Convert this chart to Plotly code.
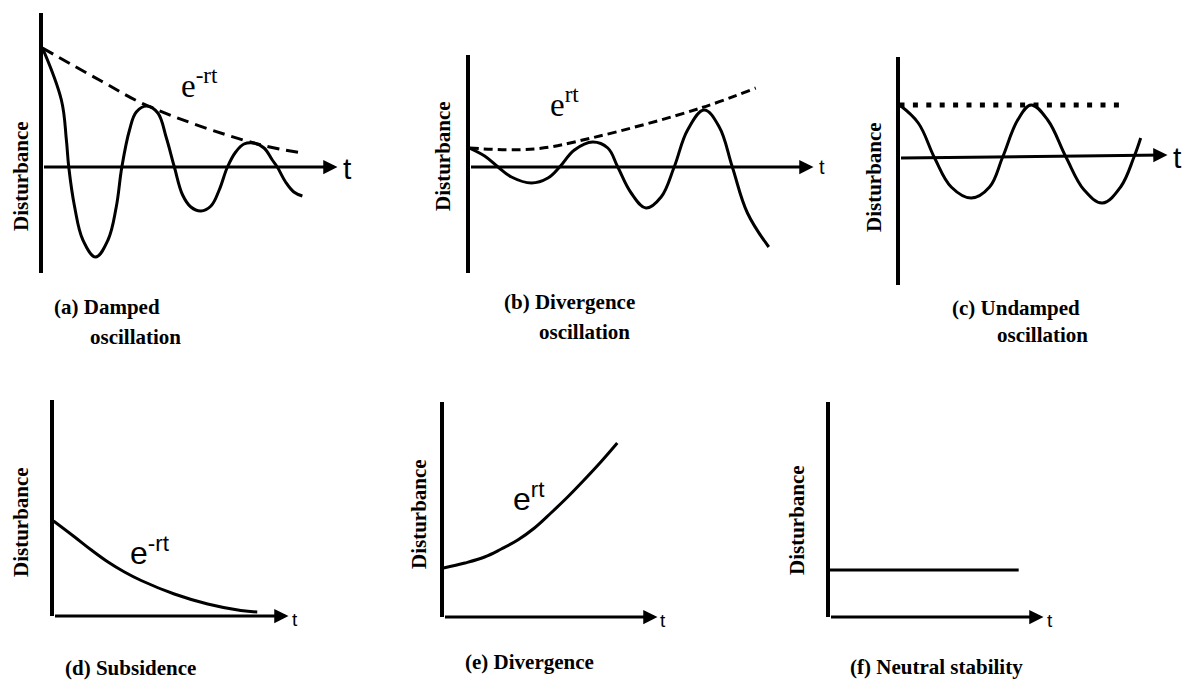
import plotly.graph_objects as go

W, H = 1184, 682

# ---------------- data: (time t, disturbance) ----------------
# (a) damped oscillation
a_t = [0, 0.64, 0.81, 0.89, 1.09, 1.37, 1.80, 2.22, 2.50, 2.69, 2.95, 3.18, 3.54, 3.91, 4.19,
       4.47, 4.75, 5.03, 5.37, 5.71, 5.99, 6.27, 6.55, 6.83, 7.17, 7.51, 7.79, 7.96, 8.24, 8.52, 8.81]
a_d = [1.19, 0.67, 0.27, 0.0, -0.40, -0.73, -0.90, -0.73, -0.40, 0.0, 0.37, 0.55, 0.61, 0.54, 0.30,
       0.0, -0.28, -0.40, -0.44, -0.39, -0.23, 0.0, 0.15, 0.23, 0.24, 0.19, 0.07, 0.0, -0.15, -0.25, -0.29]
a_env_t = [0, 1.99, 3.58, 7.16, 8.82]
a_env_d = [1.19, 0.86, 0.61, 0.24, 0.14]

# (b) divergence oscillation
b_t = [0, 0.44, 0.83, 1.22, 1.80, 2.28, 2.62, 3.05, 3.58, 4.02, 4.31, 4.70, 5.13, 5.57, 5.95,
       6.34, 6.82, 7.26, 7.64, 8.08, 8.70]
b_d = [0.19, 0.11, 0.0, -0.10, -0.16, -0.11, 0.0, 0.17, 0.25, 0.19, 0.0, -0.26, -0.41, -0.30, 0.0,
       0.37, 0.57, 0.40, 0.0, -0.46, -0.80]
b_env_t = [0, 1.88, 3.54, 6.72, 8.32]
b_env_d = [0.19, 0.18, 0.29, 0.59, 0.79]

# (c) undamped oscillation
c_t = [0, 0.70, 1.31, 1.93, 2.68, 3.36, 3.85, 4.41, 4.91, 5.53, 6.21, 6.89, 7.57, 8.25, 8.75, 9.00]
c_d = [0.53, 0.35, 0.0, -0.29, -0.40, -0.29, 0.01, 0.38, 0.53, 0.38, 0.01, -0.32, -0.45, -0.29, 0.01, 0.20]
c_lvl_t = [0, 8.48]
c_lvl_d = [0.53, 0.53]

# (d) subsidence
d_t = [0, 0.90, 1.61, 2.32, 3.02, 3.73, 5.14, 6.56, 7.97, 8.67]
d_d = [0.95, 0.79, 0.66, 0.54, 0.44, 0.355, 0.22, 0.12, 0.055, 0.04]

# (e) divergence
e_t = [0, 1.00, 1.92, 2.70, 3.47, 4.25, 5.02, 5.80, 6.57, 7.35, 8.12]
e_d = [0.49, 0.54, 0.60, 0.68, 0.77, 0.89, 1.04, 1.20, 1.37, 1.55, 1.74]

# (f) neutral stability
f_t = [0, 8.84]
f_d = [0.47, 0.47]

# time-axis arrow end (t, disturbance) per panel
axis_tip_t = [10, 10, 10, 10, 10, 10]
axis_tip_d = [0.0, 0.0, 0.03, 0.0, 0.0, 0.0]

captions = [
    ["(a) Damped", "oscillation"],
    ["(b) Divergence", "oscillation"],
    ["(c) Undamped", "oscillation"],
    ["(d) Subsidence"],
    ["(e) Divergence"],
    ["(f) Neutral stability"],
]
y_title = "Disturbance"

# ---------------- layout geometry (pixels) ----------------
# origin x, origin y, px per t unit, px per disturbance unit, top, bottom
geom = [
    dict(ox=42.5, oy=167, sx=29.5, sy=100, top=13, bottom=273),
    dict(ox=469.5, oy=167, sx=34.4, sy=100, top=55, bottom=273),
    dict(ox=899.5, oy=158, sx=26.8, sy=100, top=57, bottom=285),
    dict(ox=53.5, oy=616, sx=23.5, sy=100, top=400, bottom=616),
    dict(ox=443.5, oy=617, sx=21.4, sy=100, top=402, bottom=617),
    dict(ox=829.5, oy=617, sx=21.4, sy=100, top=402, bottom=617),
]

fig = go.Figure()
layout = dict(
    width=W, height=H, margin=dict(l=0, r=0, t=0, b=0),
    paper_bgcolor="white", plot_bgcolor="white",
    showlegend=False, hovermode=False,
)
annotations = []

def px(x):
    return x / W

def py(y):
    return 1 - y / H

for i, g in enumerate(geom):
    n = "" if i == 0 else str(i + 1)
    right = min(g["ox"] + 10 * g["sx"] + 30, W - 1)
    layout["xaxis" + n] = dict(
        domain=[px(g["ox"]), px(right)],
        range=[0, (right - g["ox"]) / g["sx"]],
        visible=False, anchor="y" + n, fixedrange=True,
    )
    layout["yaxis" + n] = dict(
        domain=[py(g["bottom"]), py(g["top"])],
        range=[(g["oy"] - g["bottom"]) / g["sy"], (g["oy"] - g["top"]) / g["sy"]],
        showline=True, linewidth=3.5, linecolor="black", mirror=False,
        showgrid=False, zeroline=False, ticks="", showticklabels=False,
        anchor="x" + n, fixedrange=True,
    )
    # time axis with arrow
    annotations.append(dict(
        x=axis_tip_t[i], y=axis_tip_d[i], ax=0, ay=0,
        xref="x" + n, yref="y" + n, axref="x" + n, ayref="y" + n,
        text="", showarrow=True, arrowhead=2, arrowsize=0.95, arrowwidth=3,
        arrowcolor="black", standoff=0, startstandoff=0,
    ))

line_solid = dict(color="black", width=3, shape="spline", smoothing=1.1)

def add(t, d, k, **line):
    n = "" if k == 0 else str(k + 1)
    ln = dict(line_solid)
    ln.update(line)
    fig.add_trace(go.Scatter(x=t, y=d, mode="lines", line=ln,
                             xaxis="x" + n, yaxis="y" + n))

add(a_env_t, a_env_d, 0, dash="12px,7px", width=3)
add(a_t, a_d, 0)
add(b_env_t, b_env_d, 1, dash="9px,5px", width=3)
add(b_t, b_d, 1)
add(c_lvl_t, c_lvl_d, 2, dash="5px,8.4px", width=5, shape="linear")
add(c_t, c_d, 2)
add(d_t, d_d, 3)
add(e_t, e_d, 4)
add(f_t, f_d, 5, shape="linear")

serif_b = dict(family="Liberation Serif, Times New Roman, serif", size=21, color="black")

# captions
cap_pos = [
    [(52, 307), (88, 337)],
    [(502, 302), (537, 332)],
    [(950, 308), (995, 335)],
    [(63, 668)],
    [(463, 662)],
    [(848, 667)],
]
for lines, poss in zip(captions, cap_pos):
    for txt, (x, y) in zip(lines, poss):
        annotations.append(dict(
            x=px(x), y=py(y), xref="paper", yref="paper", xanchor="left", yanchor="middle",
            text="<b>" + txt + "</b>", showarrow=False, font=serif_b,
        ))

# y titles
ytitle_pos = [(21, 176), (443, 156), (874, 177), (21, 522), (419, 514), (797, 520)]
for (x, y) in ytitle_pos:
    annotations.append(dict(
        x=px(x), y=py(y), xref="paper", yref="paper", xanchor="center", yanchor="middle",
        text="<b>" + y_title + "</b>", textangle=-90, showarrow=False, font=serif_b,
    ))

# "t" labels
t_pos = [(347, 168, 30), (822, 167, 20), (1177, 157, 30), (295, 619, 19), (663, 620, 19), (1050, 620, 19)]
for (x, y, s) in t_pos:
    annotations.append(dict(
        x=px(x), y=py(y), xref="paper", yref="paper", xanchor="center", yanchor="middle",
        text="t", showarrow=False,
        font=dict(family="Liberation Sans, Arial, sans-serif", size=s, color="black"),
    ))

# exponential labels
exp_labels = [
    ("e<sup>-rt</sup>", 179, 83, "Liberation Serif, Times New Roman, serif", 33),
    ("e<sup>rt</sup>", 548, 102, "Liberation Serif, Times New Roman, serif", 33),
    ("e<sup>-rt</sup>", 128, 551, "Liberation Sans, Arial, sans-serif", 32),
    ("e<sup>rt</sup>", 511, 497, "Liberation Sans, Arial, sans-serif", 32),
]
for (txt, x, y, fam, s) in exp_labels:
    annotations.append(dict(
        x=px(x), y=py(y), xref="paper", yref="paper", xanchor="left", yanchor="middle",
        text=txt, showarrow=False, font=dict(family=fam, size=s, color="black"),
    ))

layout["annotations"] = annotations
fig.update_layout(**layout)
fig.write_html(
    "out.html",
    config={"displayModeBar": False},
    post_script="document.body.style.margin='0';document.body.style.overflow='hidden';",
)
